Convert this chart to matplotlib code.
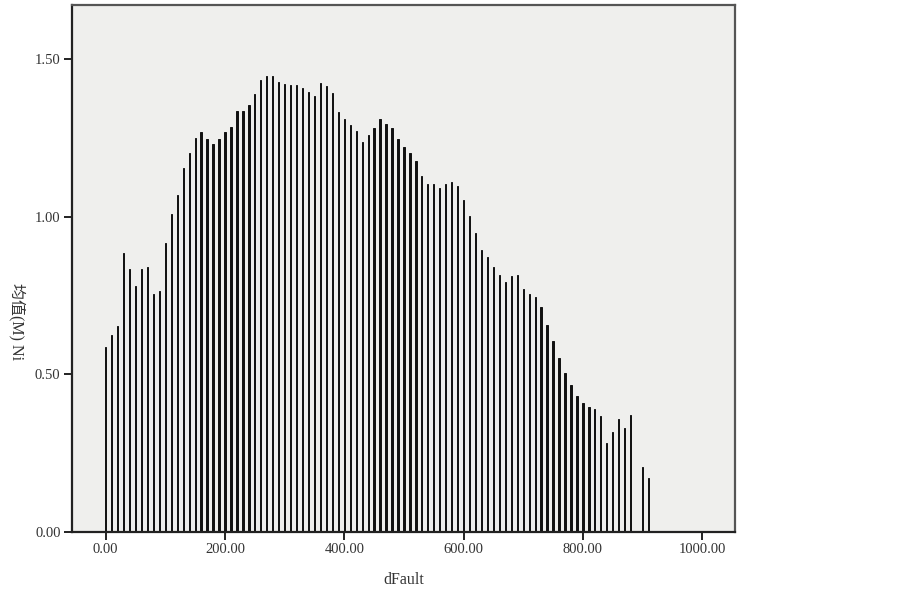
import matplotlib
matplotlib.use("Agg")
import matplotlib.pyplot as plt
import numpy as np

x_vals = list(range(0, 890, 10)) + [900, 910]
means = [0.586, 0.623, 0.653, 0.885, 0.834, 0.779, 0.834, 0.841, 0.756, 0.765,
         0.917, 1.007, 1.070, 1.155, 1.203, 1.249, 1.270, 1.248, 1.231, 1.246,
         1.268, 1.285, 1.335, 1.337, 1.356, 1.391, 1.434, 1.445, 1.445, 1.429,
         1.422, 1.418, 1.418, 1.410, 1.395, 1.383, 1.423, 1.416, 1.392, 1.333,
         1.309, 1.292, 1.272, 1.237, 1.260, 1.283, 1.311, 1.294, 1.282, 1.245,
         1.222, 1.202, 1.177, 1.130, 1.103, 1.105, 1.092, 1.105, 1.110, 1.096,
         1.054, 1.003, 0.948, 0.895, 0.873, 0.840, 0.814, 0.793, 0.811, 0.815,
         0.772, 0.754, 0.744, 0.714, 0.656, 0.606, 0.550, 0.504, 0.465, 0.432,
         0.408, 0.395, 0.391, 0.367, 0.282, 0.315, 0.358, 0.328, 0.369,
         0.206, 0.169]
x_ticks = [0, 200, 400, 600, 800, 1000]
y_ticks = [0.0, 0.5, 1.0, 1.5]

plt.rcParams['font.family'] = ['Liberation Serif', 'Noto Sans CJK SC', 'DejaVu Sans']

fig = plt.figure(figsize=(9.03, 5.89), dpi=100)
ax = fig.add_axes([71.7/903, (589-531.7)/589, (735-71.7)/903, (531.7-5.3)/589])
ax.set_facecolor('#efefed')

ax.bar(x_vals, means, width=2.2, color='#111111', edgecolor='#111111',
       linewidth=0.7, align='center')

ax.set_xlim(-57, 1055)
ax.set_ylim(0, 1.671)
ax.set_xticks(x_ticks)
ax.set_xticklabels([f"{t:.2f}" for t in x_ticks])
ax.set_yticks(y_ticks)
ax.set_yticklabels([f"{t:.2f}" for t in y_ticks])

for s in ['left', 'bottom']:
    ax.spines[s].set_linewidth(1.6)
    ax.spines[s].set_color('#222222')
for s in ['top', 'right']:
    ax.spines[s].set_linewidth(1.6)
    ax.spines[s].set_color('#555555')

ax.tick_params(axis='both', direction='out', length=6, width=1.4, color='#222222',
               labelsize=10.5, labelcolor='#333333', pad=2)

ax.set_xlabel('dFault', fontsize=11.5, color='#333333', labelpad=12)
ax.set_ylabel('均值(M) Ni', fontsize=11.5, color='#333333', rotation=270,
              va='center', ha='center')
ax.yaxis.set_label_coords(-0.083, 0.40)

fig.savefig('out.png', dpi=100, facecolor='white')
